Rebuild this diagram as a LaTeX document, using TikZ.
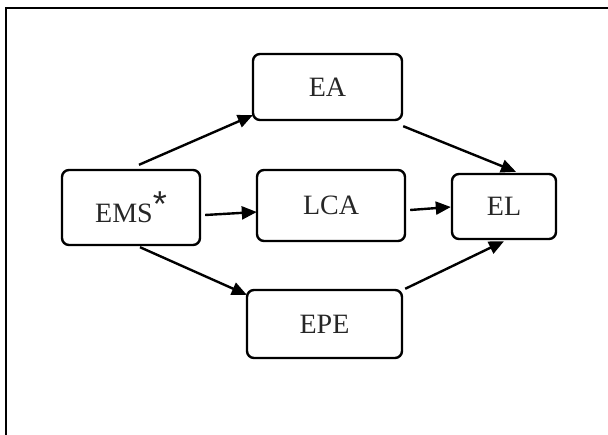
\documentclass[tikz,border=0pt]{standalone}
\usepackage{fontspec}
\setmainfont{Liberation Serif}
\newfontfamily\astfont{Liberation Sans}
\usetikzlibrary{arrows.meta,calc}
\begin{document}
\begin{tikzpicture}[x=1pt,y=-1pt,
  box/.style={draw,line width=2.4pt,rounded corners=7pt,inner sep=0pt,text=black!85,
    font=\fontsize{28}{32}\selectfont},
  arr/.style={line width=2.4pt,-{Triangle[length=15pt,width=13pt]}}]
\useasboundingbox (0,0) rectangle (608,435);
\draw[line width=2.8pt] (6,435) -- (6,8) -- (608,8);
\node[box,minimum width=138pt,minimum height=75pt] (ems) at (131,207.5) {EMS\raisebox{6pt}{\astfont\fontsize{36}{36}\selectfont *}};
\node[box,minimum width=149pt,minimum height=66pt] (ea) at (327.5,87) {EA};
\node[box,minimum width=148pt,minimum height=71pt] (lca) at (331,205.5) {LCA};
\node[box,minimum width=104pt,minimum height=65pt] (el) at (504,206.5) {EL};
\node[box,minimum width=155pt,minimum height=68pt] (epe) at (324.5,324) {EPE};
\draw[arr] ($(ems.north)+(8,-4)$) -- ($(ea.south west)+(1,-6)$);
\draw[arr] ($(ems.east)+(4,7.5)$) -- ($(lca.west)+(1,6.5)$);
\draw[arr] ($(ems.south)+(9,1)$) -- ($(epe.north west)+(1,6)$);
\draw[arr] ($(ea.south east)+(0,5)$) -- ($(el.north)+(12,-1)$);
\draw[arr] ($(lca.east)+(4,4.5)$) -- ($(el.west)+(0,0.5)$);
\draw[arr] ($(epe.north east)+(2,0)$) -- ($(el.south)+(0,1)$);
\end{tikzpicture}
\end{document}
